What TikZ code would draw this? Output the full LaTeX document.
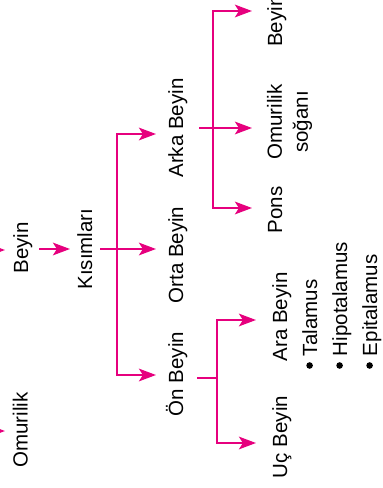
\documentclass[tikz,border=0pt]{standalone}
\usepackage{fontspec}
\setmainfont{Liberation Sans}
\usetikzlibrary{arrows.meta}
\definecolor{pink}{RGB}{230,0,126}
\newcommand{\dotmark}{\raisebox{0.2em}{\tikz\fill (0,0) circle (3.3pt);}\hspace{0.3em}}
\tikzset{
  lbl/.style={rotate=90, inner sep=0pt, font=\fontsize{20.5}{26}\selectfont},
  arr/.style={draw=pink, line width=2.7pt, line join=miter,
    -{Stealth[length=17pt,width=12.5pt,inset=4pt]}},
  bar/.style={draw=pink, line width=2.7pt, line join=miter},
}
\begin{document}
\begin{tikzpicture}[x=1pt,y=-1pt]
\useasboundingbox (0,0) rectangle (383,488);
\clip (0,0) rectangle (383,488);

% upper level of the tree
\node[lbl, anchor=base] (omL) at (27.5,430) {Omurilik};
\node[lbl, anchor=base] (beyinL) at (28,248) {Beyin};
\node[lbl, anchor=base] (kis) at (92,249) {Kısımları};

% brain parts
\node[lbl, anchor=base] (arka) at (183,128) {Arka Beyin};
\node[lbl, anchor=base] (orta) at (183,255) {Orta Beyin};
\node[lbl, anchor=base] (on) at (183,374) {Ön Beyin};

% hindbrain parts
\node[lbl, anchor=base west] (beyincik) at (282,47) {Beyincik};
\node[lbl, anchor=center, align=center] (soga) at (289.5,122) {Omurilik\\soğanı};
\node[lbl, anchor=base] (pons) at (282,210) {Pons};

% forebrain parts
\node[lbl, anchor=base] (ara) at (287,317) {Ara Beyin};
\node[lbl, anchor=base] (uc) at (287,437) {Uç Beyin};
\node[lbl, anchor=base west] (tal) at (317,369) {\dotmark Talamus};
\node[lbl, anchor=base west] (hip) at (347,369) {\dotmark Hipotalamus};
\node[lbl, anchor=base west] (epi) at (377,369) {\dotmark Epitalamus};

% connector end points
\coordinate (inA) at (-30,250);
\coordinate (inAt) at (5,250);
\coordinate (inB) at (-30,431);
\coordinate (inBt) at (5,431);
\coordinate (kisIn) at (39,249);
\coordinate (kisTip) at (70,249);
\coordinate (kisOut) at (100,249);
\coordinate (barK) at (117,249);
\coordinate (tArka) at (156,134);
\coordinate (tOrta) at (156,249);
\coordinate (tOn) at (156,375);
\coordinate (arkaOut) at (199,128);
\coordinate (barA) at (213,128);
\coordinate (tBeyincik) at (252,11);
\coordinate (tSoga) at (252,128);
\coordinate (tPons) at (252,208);
\coordinate (onOut) at (197,378);
\coordinate (barO) at (217,378);
\coordinate (tAra) at (256,320);
\coordinate (tUc) at (256,443);

% connectors
\draw[arr] (inA) -- (inAt);
\draw[arr] (inB) -- (inBt);
\draw[arr] (kisIn) -- (kisTip);

\draw[arr] (kisOut) -- (tOrta);
\draw[arr] (barK) |- (tArka);
\draw[arr] (barK) |- (tOn);

\draw[arr] (arkaOut) -- (tSoga);
\draw[arr] (barA) |- (tBeyincik);
\draw[arr] (barA) |- (tPons);

\draw[bar] (onOut) -- (barO);
\draw[arr] (barO) |- (tAra);
\draw[arr] (barO) |- (tUc);
\end{tikzpicture}
\end{document}
